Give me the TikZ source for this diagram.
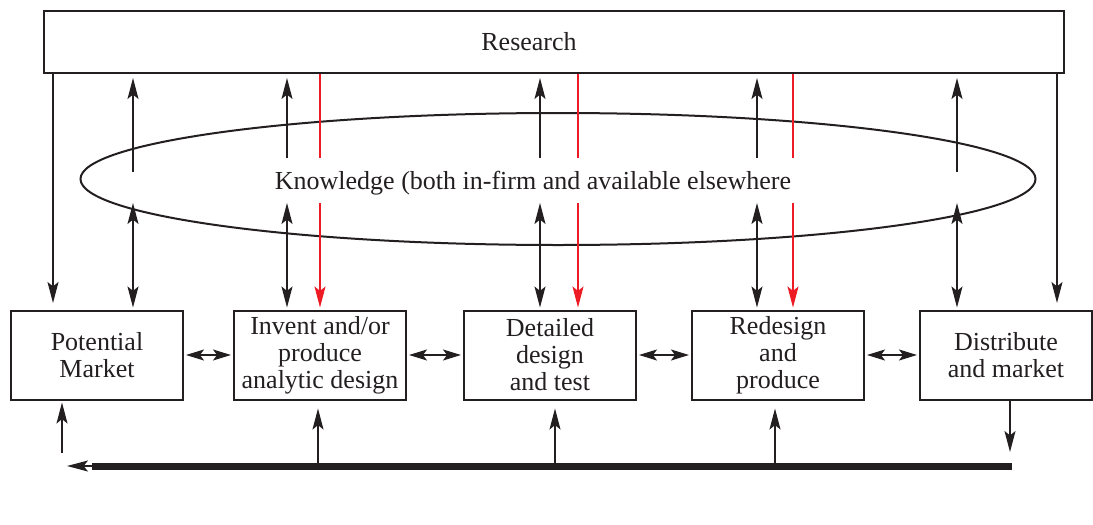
\documentclass[tikz,border=0pt]{standalone}
\usepackage{fontspec}
\setmainfont{Liberation Serif}
\usetikzlibrary{arrows.meta,shapes.geometric}
\definecolor{ink}{RGB}{35,31,32}
\definecolor{flowred}{RGB}{237,28,36}
\begin{document}
\begin{tikzpicture}[x=0.5pt,y=-0.5pt,
  font=\fontsize{13}{13.5}\selectfont, text=ink,
  tip/.tip={Stealth[length=10.5pt,width=5.5pt,inset=2.2pt]},
  shorttip/.tip={Stealth[length=9pt,width=5.5pt,inset=2pt]},
  stagebox/.style={draw=ink,line width=1pt,minimum width=86pt,minimum height=44.5pt,
    inner sep=0pt,align=center},
  link/.style={draw=ink,line width=0.75pt},
  redlink/.style={draw=flowred,line width=0.75pt},
  thickflow/.style={draw=ink,line width=3.5pt}]
\useasboundingbox (0,0) rectangle (1093,525);

% research band and knowledge pool
\node[draw=ink,line width=1pt,minimum width=510pt,minimum height=31pt,inner sep=0pt]
  (research) at (554,42) {};
\node (rlabel) at (529,42) {Research};
\node[draw=ink,line width=1pt,ellipse,minimum width=477.5pt,minimum height=66pt,inner sep=0pt]
  (know) at (558,179) {};
\node (klabel) at (533,183) {Knowledge (both in-firm and available elsewhere};

% stages of the innovation chain
\node[stagebox] (pm)   at (97,355)   {Potential\\Market};
\node[stagebox] (inv)  at (320,355)  {Invent and/or\\produce\\analytic design};
\node[stagebox] (det)  at (550,355)  {Detailed\\design\\and test};
\node[stagebox] (red)  at (778,355)  {Redesign\\and\\produce};
\node[stagebox] (dist) at (1006,355) {Distribute\\and market};

% chain-linked neighbours
\begin{scope}[shorten <=1pt,shorten >=1pt]
\draw[link,{shorttip}-{shorttip}] (pm.east)  -- (inv.west);
\draw[link,{shorttip}-{shorttip}] (inv.east) -- (det.west);
\draw[link,{shorttip}-{shorttip}] (det.east) -- (red.west);
\draw[link,{shorttip}-{shorttip}] (red.east) -- (dist.west);
\end{scope}

% column and row references
\coordinate (c1) at (53,0);
\coordinate (c2) at (133,0);
\coordinate (c3) at (287,0);
\coordinate (r1) at (320,0);
\coordinate (c4) at (540,0);
\coordinate (r2) at (578,0);
\coordinate (c5) at (757,0);
\coordinate (r3) at (793,0);
\coordinate (c6) at (957,0);
\coordinate (c7) at (1057,0);
\coordinate (kin)  at (0,158);
\coordinate (kout) at (0,172);
\coordinate (klow) at (0,203);
\coordinate (endtop) at (0,303);

% research straight to market ends
\draw[link,-{tip}] (research.south -| c1) -- (c1 |- endtop);
\draw[link,-{tip}] (research.south -| c7) -- (c7 |- endtop);

% knowledge up to research
\begin{scope}[shorten >=2pt]
\draw[link,-{tip}] (c2 |- kout) -- (research.south -| c2);
\draw[link,-{tip}] (c3 |- kin)  -- (research.south -| c3);
\draw[link,-{tip}] (c4 |- kin)  -- (research.south -| c4);
\draw[link,-{tip}] (c5 |- kin)  -- (research.south -| c5);
\draw[link,-{tip}] (c6 |- kout) -- (research.south -| c6);
\end{scope}

% knowledge to and from stages
\begin{scope}[shorten >=1pt]
\draw[link,{tip}-{tip}] (c2 |- klow) -- (pm.north -| c2);
\draw[link,{tip}-{tip}] (c3 |- klow) -- (inv.north -| c3);
\draw[link,{tip}-{tip}] (c4 |- klow) -- (det.north -| c4);
\draw[link,{tip}-{tip}] (c5 |- klow) -- (red.north -| c5);
\draw[link,{tip}-{tip}] (c6 |- klow) -- (dist.north -| c6);
\end{scope}

% research down through knowledge to stages
\draw[redlink] (research.south -| r1) -- (r1 |- kin);
\draw[redlink] (research.south -| r2) -- (r2 |- kin);
\draw[redlink] (research.south -| r3) -- (r3 |- kin);
\begin{scope}[shorten >=1pt]
\draw[redlink,-{tip[flowred]}] (r1 |- klow) -- (inv.north -| r1);
\draw[redlink,-{tip[flowred]}] (r2 |- klow) -- (det.north -| r2);
\draw[redlink,-{tip[flowred]}] (r3 |- klow) -- (red.north -| r3);
\end{scope}

% feedback line along the bottom
\coordinate (be)   at (1012,466);
\coordinate (bw)   at (92,466);
\coordinate (btip) at (67,466);
\draw[thickflow] (be) -- (bw);
\draw[link,-{tip}] (bw) -- (btip);

\coordinate (f1) at (62,453);
\coordinate (f2) at (318,0);
\coordinate (f3) at (555,0);
\coordinate (f4) at (775,0);
\coordinate (f5) at (1010,452);
\draw[link,-{tip},shorten >=1pt] (f1) -- (pm.south -| f1);
\draw[link,-{tip},shorten >=4pt] (be -| f2) -- (inv.south -| f2);
\draw[link,-{tip},shorten >=4pt] (be -| f3) -- (det.south -| f3);
\draw[link,-{tip},shorten >=4pt] (be -| f4) -- (red.south -| f4);
\draw[link,-{tip}] (dist.south -| f5) -- (f5);
\end{tikzpicture}
\end{document}
